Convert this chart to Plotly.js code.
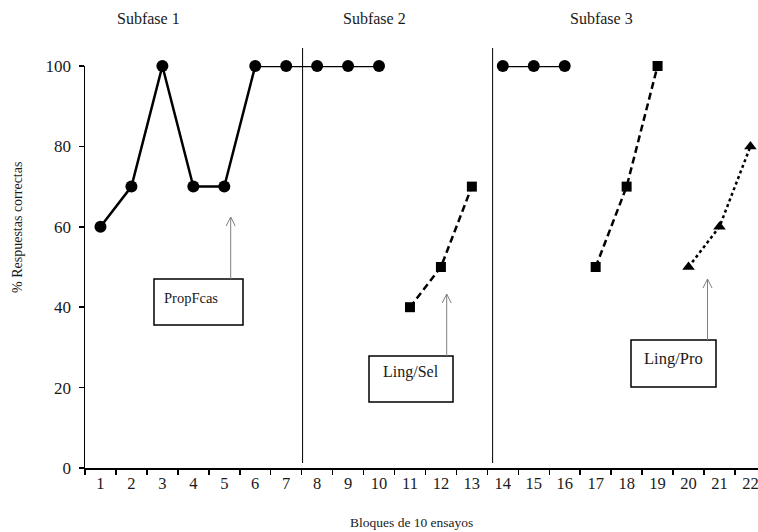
<!DOCTYPE html>
<html>
<head>
<meta charset="utf-8">
<script src="https://cdn.plot.ly/plotly-3.0.1.min.js"></script>
<style>html,body{margin:0;padding:0;background:#fff}#chart{width:758px;height:532px}</style>
</head>
<body>
<div id="chart"></div>
<script>
// ---- data ----
var blocks = [1,2,3,4,5,6,7,8,9,10,11,12,13,14,15,16,17,18,19,20,21,22];
var propFcasX = [1,2,3,4,5,6,7,8,9,10,null,14,15,16];
var propFcasY = [60,70,100,70,70,100,100,100,100,100,null,100,100,100];
var lingSelX = [11,12,13,null,17,18,19];
var lingSelY = [40,50,70,null,50,70,100];
var lingProX = [20,21,22];
var lingProY = [50,60,80];
var yTicks = [0,20,40,60,80,100];
var phaseBreaks = [7.53, 13.67];
var phaseNames = ['Subfase 1','Subfase 2','Subfase 3'];
var boxLabels = ['PropFcas','Ling/Sel','Ling/Pro'];
var xTitle = 'Bloques de 10 ensayos';
var yTitle = '% Respuestas correctas';

// ---- layout helpers (pixel -> paper) ----
var L = 85, R = 0, T = 66, B = 64, W = 758, H = 532;
var PW = W - L - R, PH = H - T - B;
function px(x){ return (x - L) / PW; }
function py(y){ return (H - B - y) / PH; }

var FONT = "'Liberation Serif', 'Times New Roman', serif";
var TXT = '#1a1a1a';

var traces = [
  {x: propFcasX, y: propFcasY, mode: 'lines+markers', connectgaps: false, cliponaxis: false,
   line: {color: '#000', width: 2.5},
   marker: {symbol: 'circle', size: 12, color: '#000'}},
  {x: lingSelX, y: lingSelY, mode: 'lines+markers', connectgaps: false, cliponaxis: false,
   line: {color: '#000', width: 2.5, dash: '7px,4px'},
   marker: {symbol: 'square', size: 10, color: '#000'}},
  {x: lingProX, y: lingProY, mode: 'lines+markers', cliponaxis: false,
   line: {color: '#000', width: 2.5, dash: 'dot'},
   marker: {symbol: 'triangle-up', size: 11, color: '#000'}}
];

var shapes = [];
phaseBreaks.forEach(function(b){
  shapes.push({type: 'line', xref: 'x', yref: 'paper', x0: b, x1: b, y0: py(463), y1: py(48),
               line: {color: '#000', width: 1}});
});
var boxes = [
  {x0: 154, x1: 243, y0: 279, y1: 325, tx: 191, ty: 298, size: 14.5, ax: 230.7, tip: 217},
  {x0: 369, x1: 453, y0: 356, y1: 402, tx: 411, ty: 372, size: 16, ax: 446.7, tip: 294},
  {x0: 631, x1: 716, y0: 340, y1: 387, tx: 673, ty: 358, size: 16.5, ax: 707.5, tip: 279}
];
var annotations = [];
boxes.forEach(function(b, i){
  shapes.push({type: 'rect', xref: 'paper', yref: 'paper', x0: px(b.x0), x1: px(b.x1),
               y0: py(b.y1), y1: py(b.y0), line: {color: '#000', width: 1.5}, fillcolor: '#fff'});
  annotations.push({xref: 'paper', yref: 'paper', x: px(b.tx), y: py(b.ty), text: boxLabels[i],
                    showarrow: false, xanchor: 'center', yanchor: 'middle',
                    font: {family: FONT, size: b.size, color: TXT}});
  // arrow shaft
  shapes.push({type: 'line', xref: 'paper', yref: 'paper', x0: px(b.ax), x1: px(b.ax),
               y0: py(b.y0), y1: py(b.tip), line: {color: '#808080', width: 1}});
  // open arrow head
  shapes.push({type: 'path', xref: 'paper', yref: 'paper',
               path: 'M' + px(b.ax - 4.5) + ',' + py(b.tip + 9) + ' L' + px(b.ax) + ',' + py(b.tip) +
                     ' L' + px(b.ax + 4.5) + ',' + py(b.tip + 9),
               line: {color: '#808080', width: 1}});
});
var phaseCenters = [148.5, 374, 601];
phaseNames.forEach(function(n, i){
  annotations.push({xref: 'paper', yref: 'paper', x: px(phaseCenters[i]), y: py(18), text: n,
                    showarrow: false, xanchor: 'center', yanchor: 'middle',
                    font: {family: FONT, size: 16, color: TXT}});
});
annotations.push({xref: 'paper', yref: 'paper', x: px(411), y: py(522), text: xTitle,
                  showarrow: false, xanchor: 'center', yanchor: 'middle',
                  font: {family: FONT, size: 13.5, color: TXT}});
annotations.push({xref: 'paper', yref: 'paper', x: px(17), y: py(228), text: yTitle, textangle: -90,
                  showarrow: false, xanchor: 'center', yanchor: 'middle',
                  font: {family: FONT, size: 14, color: TXT}});

var minorVals = blocks.map(function(b){ return b - 0.5; });

var layout = {
  width: W, height: H,
  margin: {l: L, r: R, t: T, b: B, pad: 0},
  paper_bgcolor: '#fff', plot_bgcolor: '#fff',
  showlegend: false,
  font: {family: FONT, color: TXT, size: 16},
  xaxis: {
    type: 'linear', range: [0.5, 0.5 + PW / 30.95], fixedrange: true,
    tickmode: 'array', tickvals: blocks, ticktext: blocks.map(String),
    ticks: '', showgrid: false, zeroline: false, ticklabeloverflow: 'allow',
    showline: true, linecolor: '#000', linewidth: 1.5,
    tickfont: {family: FONT, size: 16.5, color: TXT},
    minor: {tickmode: 'array', tickvals: minorVals, ticks: 'outside', ticklen: 5,
            tickwidth: 1.5, tickcolor: '#000', showgrid: false}
  },
  yaxis: {
    range: [0, 100], fixedrange: true,
    tickmode: 'array', tickvals: yTicks,
    ticks: 'outside', ticklen: 5, tickwidth: 1.5, tickcolor: '#000',
    showgrid: false, zeroline: false, ticklabelstandoff: 4,
    showline: true, linecolor: '#000', linewidth: 1.5,
    tickfont: {family: FONT, size: 17, color: TXT}
  },
  shapes: shapes,
  annotations: annotations
};

Plotly.newPlot('chart', traces, layout, {staticPlot: true, displayModeBar: false});
</script>
</body>
</html>
